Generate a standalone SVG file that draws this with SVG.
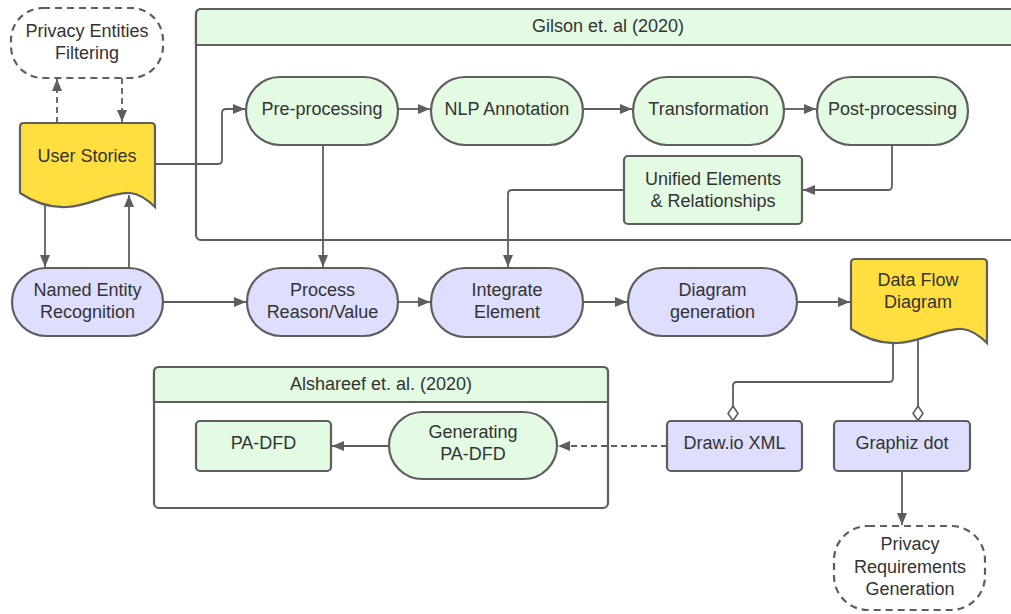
<svg xmlns="http://www.w3.org/2000/svg" width="1011" height="614" viewBox="0 0 1011 614">
<defs>
<style>
text{font-family:"Liberation Sans",Arial,sans-serif;font-size:18px;fill:#333333;text-anchor:middle}
.g{fill:#E3FAE3;stroke:#5E5E5E;stroke-width:2.2}
.p{fill:#DEDEFF;stroke:#5E5E5E;stroke-width:2.2}
.y{fill:#FFDF3F;stroke:#5E5E5E;stroke-width:2.2}
.dash{fill:#FFFFFF;stroke:#5E5E5E;stroke-width:2.2;stroke-dasharray:7 5}
.frame{fill:#FFFFFF;stroke:#5E5E5E;stroke-width:2.2}
.c{fill:none;stroke:#5E5E5E;stroke-width:1.8}
.cd{fill:none;stroke:#5E5E5E;stroke-width:1.8;stroke-dasharray:6 4}
</style>
<marker id="ah" viewBox="0 0 12 10" refX="12" refY="5" markerWidth="12" markerHeight="10" markerUnits="userSpaceOnUse" orient="auto">
<path d="M0,0 L12,5 L0,10 Z" fill="#5E5E5E"/>
</marker>
<marker id="dm" viewBox="0 0 16 12" refX="16" refY="6" markerWidth="16" markerHeight="12" markerUnits="userSpaceOnUse" orient="auto">
<path d="M1,6 L8.5,1 L15.5,6 L8.5,11 Z" fill="#FFFFFF" stroke="#5E5E5E" stroke-width="1.6"/>
</marker>
</defs>
<rect width="1011" height="614" fill="#FFFFFF"/>

<g id="gilson-frame">
<rect class="frame" x="196" y="9" width="840" height="231" rx="5"/>
<path d="M196,45 V14 Q196,9 201,9 H1036 V45 Z" fill="#E3FAE3" stroke="#5E5E5E" stroke-width="2.2"/>
<text x="608" y="32">Gilson et. al (2020)</text>
</g>

<g id="alshareef-frame">
<rect class="frame" x="154" y="367" width="454" height="141" rx="5"/>
<path d="M154,402 V372 Q154,367 159,367 H603 Q608,367 608,372 V402 Z" fill="#E3FAE3" stroke="#5E5E5E" stroke-width="2.2"/>
<text x="381" y="390">Alshareef et. al. (2020)</text>
</g>

<g id="connectors">
<path class="cd" d="M57,123 V79" marker-end="url(#ah)"/>
<path class="cd" d="M122,78 V122" marker-end="url(#ah)"/>
<path class="c" d="M155,164 H218 Q222,164 222,160 V113 Q222,109 226,109 H245" marker-end="url(#ah)"/>
<path class="c" d="M398,109 H430" marker-end="url(#ah)"/>
<path class="c" d="M583,109 H632" marker-end="url(#ah)"/>
<path class="c" d="M784,109 H816" marker-end="url(#ah)"/>
<path class="c" d="M892,145 V186 Q892,190 888,190 H803" marker-end="url(#ah)"/>
<path class="c" d="M624,190 H512 Q508,190 508,194 V267" marker-end="url(#ah)"/>
<path class="c" d="M323,145 V267" marker-end="url(#ah)"/>
<path class="c" d="M45,201 V267" marker-end="url(#ah)"/>
<path class="c" d="M129,268 V195" marker-end="url(#ah)"/>
<path class="c" d="M163,302 H246" marker-end="url(#ah)"/>
<path class="c" d="M398,302 H430" marker-end="url(#ah)"/>
<path class="c" d="M583,302 H627" marker-end="url(#ah)"/>
<path class="c" d="M797,302 H850" marker-end="url(#ah)"/>
<path class="c" d="M893,343 V378 Q893,382 889,382 H737 Q733,382 733,386 V421" marker-end="url(#dm)"/>
<path class="c" d="M918,337 V421" marker-end="url(#dm)"/>
<path class="c" d="M902,471 V525" marker-end="url(#ah)"/>
<path class="cd" d="M667,446 H558" marker-end="url(#ah)"/>
<path class="c" d="M389,446 H332" marker-end="url(#ah)"/>
</g>

<g id="privacy-entities-filtering">
<rect class="dash" x="11" y="8" width="152" height="70" rx="32"/>
<text x="87" y="37">Privacy Entities</text>
<text x="87" y="59">Filtering</text>
</g>

<g id="user-stories">
<path class="y" d="M24,123 H151 Q155,123 155,127 V207 C148,200 140,194 130,193 C110,192 90,206 67,207 C50,208 35,203 20,193 V127 Q20,123 24,123 Z"/>
<text x="87" y="162">User Stories</text>
</g>

<g id="pre-processing">
<rect class="g" x="246" y="77" width="152" height="68" rx="34"/>
<text x="322" y="115">Pre-processing</text>
</g>

<g id="nlp-annotation">
<rect class="g" x="431" y="77" width="152" height="68" rx="34"/>
<text x="507" y="115">NLP Annotation</text>
</g>

<g id="transformation">
<rect class="g" x="633" y="77" width="151" height="68" rx="34"/>
<text x="708.5" y="115">Transformation</text>
</g>

<g id="post-processing">
<rect class="g" x="817" y="77" width="151" height="68" rx="34"/>
<text x="892.5" y="115">Post-processing</text>
</g>

<g id="unified-elements">
<rect class="g" x="624" y="156" width="178" height="68" rx="4"/>
<text x="713" y="185">Unified Elements</text>
<text x="713" y="207">&amp; Relationships</text>
</g>

<g id="named-entity-recognition">
<rect class="p" x="12" y="268" width="151" height="68" rx="34"/>
<text x="87.5" y="296">Named Entity</text>
<text x="87.5" y="318">Recognition</text>
</g>

<g id="process-reason-value">
<rect class="p" x="247" y="268" width="151" height="68" rx="34"/>
<text x="322.5" y="296">Process</text>
<text x="322.5" y="318">Reason/Value</text>
</g>

<g id="integrate-element">
<rect class="p" x="431" y="268" width="152" height="69" rx="34"/>
<text x="507" y="296">Integrate</text>
<text x="507" y="318">Element</text>
</g>

<g id="diagram-generation">
<rect class="p" x="628" y="268" width="169" height="68" rx="34"/>
<text x="712.5" y="296">Diagram</text>
<text x="712.5" y="318">generation</text>
</g>

<g id="data-flow-diagram">
<path class="y" d="M855,259 H983 Q987,259 987,263 V343 C980,336 972,330 962,329 C942,328 921,342 898,343 C881,344 866,339 851,329 V263 Q851,259 855,259 Z"/>
<text x="918" y="286">Data Flow</text>
<text x="918" y="308">Diagram</text>
</g>

<g id="pa-dfd">
<rect class="g" x="196" y="421" width="135" height="50" rx="4"/>
<text x="263.5" y="449">PA-DFD</text>
</g>

<g id="generating-pa-dfd">
<rect class="g" x="389" y="412" width="168" height="67" rx="33.5"/>
<text x="473" y="438">Generating</text>
<text x="473" y="460">PA-DFD</text>
</g>

<g id="drawio-xml">
<rect class="p" x="667" y="421" width="135" height="50" rx="4"/>
<text x="734.5" y="449">Draw.io XML</text>
</g>

<g id="graphiz-dot">
<rect class="p" x="834" y="421" width="136" height="50" rx="4"/>
<text x="902" y="449">Graphiz dot</text>
</g>

<g id="privacy-requirements-generation">
<rect class="dash" x="834" y="526" width="151" height="84" rx="34"/>
<text x="910" y="550">Privacy</text>
<text x="910" y="573">Requirements</text>
<text x="910" y="595">Generation</text>
</g>
</svg>
